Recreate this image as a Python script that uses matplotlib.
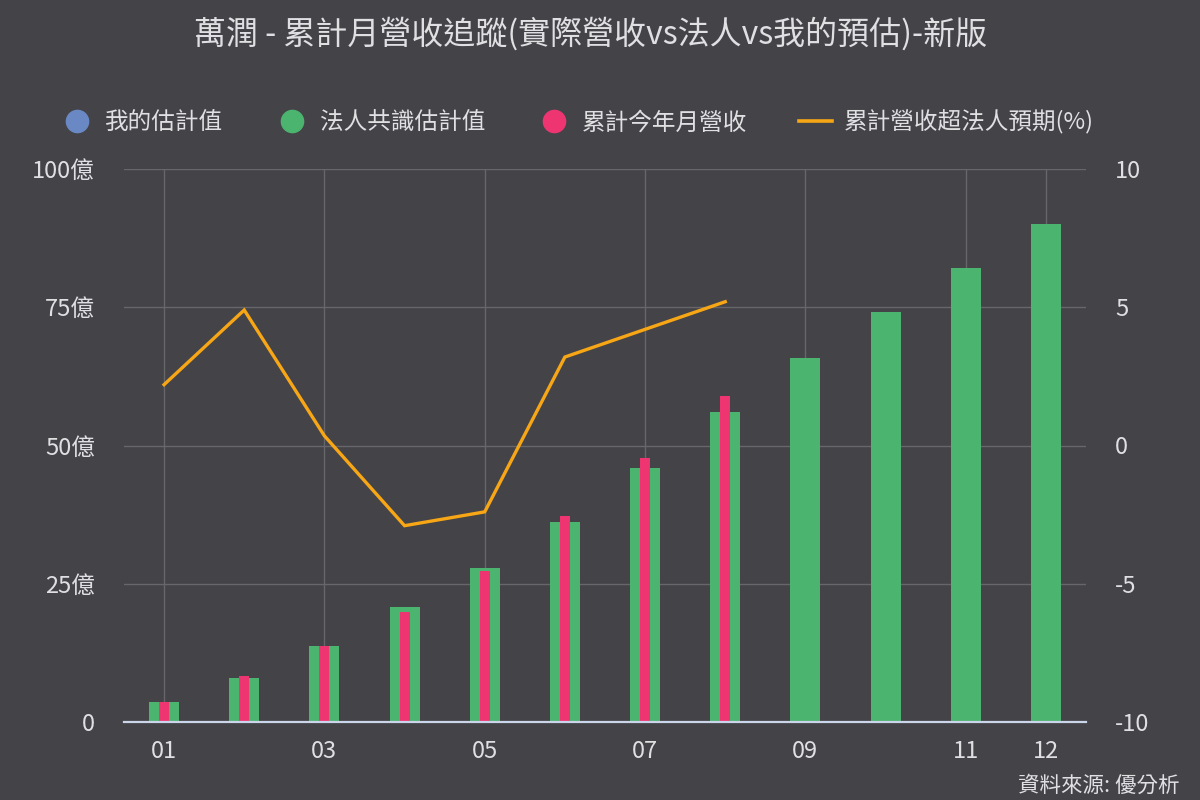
import matplotlib
matplotlib.use('Agg')
import matplotlib.pyplot as plt
from matplotlib.lines import Line2D
import numpy as np

plt.rcParams['font.family'] = ['Noto Sans CJK TC', 'DejaVu Sans']
plt.rcParams['axes.unicode_minus'] = False

# data (values in 億 / %)
months = ['01', '02', '03', '04', '05', '06', '07', '08', '09', '10', '11', '12']
shown_ticks = ['01', '03', '05', '07', '09', '11', '12']
consensus_est = [3.6, 8.0, 13.7, 20.8, 27.8, 36.2, 45.9, 56.1, 65.8, 74.1, 82.1, 90.1]
actual_cum = [3.6, 8.3, 13.7, 19.9, 27.3, 37.3, 47.7, 59.0]
beat_pct = [2.2, 4.9, 0.35, -2.9, -2.4, 3.2, 4.2, 5.2]
my_est = []

left_ticks = [0, 25, 50, 75, 100]
left_labels = ['0', '25億', '50億', '75億', '100億']
right_ticks = [-10, -5, 0, 5, 10]

bg = '#444348'
txt = '#e0e0e3'
grid_c = '#67666b'
green = '#4bb46e'
pink = '#ee3572'
blue = '#6a88c4'
orange = '#f7a615'

fig = plt.figure(figsize=(12, 8), dpi=100, facecolor=bg)
ax = fig.add_axes([0.1033, 0.0975, 0.8017, 0.69125], facecolor=bg)

x = np.arange(1, len(months) + 1)
ax.bar(x, consensus_est, width=0.375, color=green, zorder=2)
ax.bar(x[:len(actual_cum)], actual_cum, width=0.125, color=pink, zorder=3)

ax.set_xlim(0.5, 12.5)
ax.set_ylim(0, 100)
ax.set_yticks(left_ticks)
ax.set_yticklabels(left_labels)
tick_pos = [months.index(m) + 1 for m in shown_ticks]
ax.set_xticks(tick_pos)
ax.set_xticklabels(shown_ticks)
ax.grid(True, color=grid_c, linewidth=1, zorder=0)
ax.set_axisbelow(True)
for s in ['top', 'left', 'right']:
    ax.spines[s].set_visible(False)
ax.spines['bottom'].set_color('#ccd6eb')
ax.spines['bottom'].set_linewidth(1.6)
ax.spines['bottom'].set_zorder(4)
ax.tick_params(axis='both', length=0, labelcolor=txt, labelsize=17)
ax.tick_params(axis='x', pad=13)
ax.tick_params(axis='y', pad=21)

ax2 = ax.twinx()
ax2.plot(x[:len(beat_pct)], beat_pct, color=orange, linewidth=2.4, solid_joinstyle='miter')
ax2.set_ylim(-10, 10)
ax2.set_yticks(right_ticks)
for s in ax2.spines.values():
    s.set_visible(False)
ax2.tick_params(axis='y', length=0, labelcolor=txt, labelsize=17, pad=21)

handles = [
    Line2D([], [], marker='o', linestyle='none', markersize=16, color=blue),
    Line2D([], [], marker='o', linestyle='none', markersize=16, color=green),
    Line2D([], [], marker='o', linestyle='none', markersize=16, color=pink),
    Line2D([], [], color=orange, linewidth=2.6),
]
labels = ['我的估計值', '法人共識估計值', '累計今年月營收', '累計營收超法人預期(%)']
leg = fig.legend(handles, labels, loc='center', bbox_to_anchor=(0.481, 0.847), ncol=4,
                 frameon=False, fontsize=17, labelcolor=txt, columnspacing=2.2,
                 handlelength=1.4, handletextpad=0.5)

fig.text(0.492, 0.958, '萬潤 - 累計月營收追蹤(實際營收vs法人vs我的預估)-新版',
         ha='center', va='center', color=txt, fontsize=23)
fig.text(0.983, 0.018, '資料來源: 優分析', ha='right', va='center', color=txt, fontsize=15.5)

fig.savefig('out.png', dpi=100, facecolor=bg)
